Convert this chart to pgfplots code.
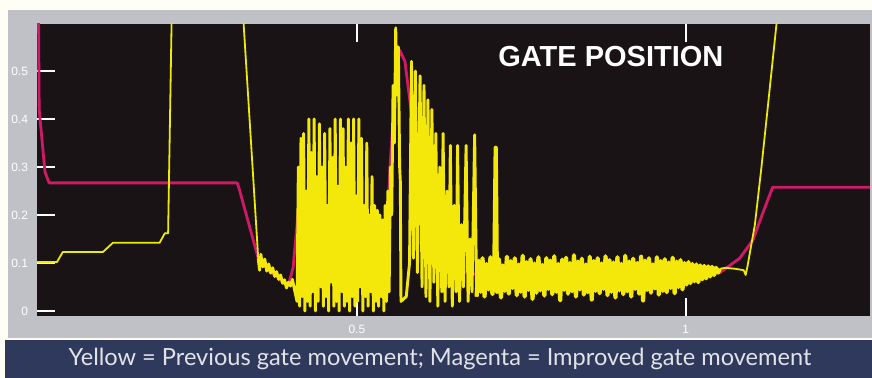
\documentclass[border=0pt]{standalone}
\usepackage{pgfplots}
\pgfplotsset{compat=1.18}
\usepackage{fontspec}
\setmainfont{Liberation Sans}
\newfontfamily\bannerfont{Lato}
\definecolor{plotbg}{RGB}{26,19,21}
\definecolor{framegray}{RGB}{192,192,199}
\definecolor{bannerblue}{RGB}{47,57,92}
\definecolor{bannertext}{RGB}{226,226,232}
\definecolor{gyellow}{RGB}{244,232,10}
\definecolor{gmagenta}{RGB}{208,26,104}
\begin{document}
\begin{tikzpicture}
\useasboundingbox (0,0) rectangle (436pt,189pt);
\fill[white!96!yellow] (0,0) rectangle (436pt,189pt);
\fill[framegray] (4pt,20pt) rectangle (436pt,184pt);
\fill[bannerblue] (2.5pt,0pt) rectangle (436pt,19pt);
\node[text=bannertext,font=\bannerfont\fontsize{11.8}{13}\selectfont] at (220pt,9.5pt) {Yellow = Previous gate movement; Magenta = Improved gate movement};
\begin{axis}[
  at={(18.5pt,31pt)}, anchor=south west,
  scale only axis, width=416.5pt, height=146pt,
  xmin=0.0137, xmax=1.28, ymin=-0.0104, ymax=0.598,
  axis background/.style={fill=plotbg},
  axis line style={draw=none},
  xtick={0.5,1}, xticklabels={0.5,1},
  ytick={0,0.1,0.2,0.3,0.4,0.5}, yticklabels={0,0.1,0.2,0.3,0.4,0.5},
  xtick pos=both, ytick pos=left,
  tick align=inside, major tick length=9pt,
  tick style={white, line width=0.9pt},
  tick label style={white, font=\fontsize{6}{7}\selectfont},
  /pgf/number format/assume math mode=true,
  yticklabel style={xshift=-1pt},
  xticklabel style={yshift=-1pt},
  clip=true,
]
\addplot[gmagenta, line width=1.4pt, line join=round] coordinates {
(0.016,0.62)(0.017,0.42)(0.0258,0.29)(0.0320,0.267)(0.318,0.267)(0.321,0.255)(0.350,0.110)(0.365,0.085)(0.380,0.070)(0.391,0.055)(0.397,0.060)(0.403,0.090)(0.409,0.180)(0.413,0.250)(0.419,0.220)(0.429,0.170)(0.436,0.154)(0.444,0.130)(0.451,0.127)(0.459,0.150)(0.467,0.170)(0.474,0.160)(0.482,0.150)(0.489,0.145)(0.497,0.140)(0.505,0.120)(0.512,0.096)(0.520,0.090)(0.527,0.096)(0.535,0.110)(0.5426,0.140)(0.547,0.200)(0.550,0.290)(0.558,0.470)(0.565,0.544)(0.573,0.520)(0.584,0.400)(0.596,0.310)(0.611,0.217)(0.626,0.154)(0.637,0.120)(0.652,0.092)(0.667,0.080)(0.687,0.075)(0.720,0.072)(0.800,0.070)(0.900,0.072)(1.000,0.075)(1.052,0.080)(1.082,0.110)(1.102,0.148)(1.117,0.204)(1.132,0.258)(1.280,0.258)
};
% previous movement: closing steps and opening ramp (thin trace)
\addplot[gyellow!85!lime, line width=0.9pt, line join=round] coordinates {
(0.0137,0.102)(0.044,0.102)(0.053,0.123)(0.114,0.123)(0.129,0.142)(0.200,0.142)(0.208,0.162)(0.213,0.162)(0.219,0.66)(0.325,0.66)(0.350,0.110)
};
% previous movement: oscillating part
\addplot[gyellow, line width=1.45pt, line join=round] coordinates {
(0.350,0.110)
(0.352,0.085)(0.354,0.118)(0.357,0.092)(0.360,0.108)(0.363,0.083)(0.366,0.098)(0.369,0.079)(0.372,0.090)(0.375,0.072)(0.378,0.082)(0.381,0.066)(0.384,0.075)(0.387,0.058)(0.390,0.065)(0.393,0.048)(0.396,0.060)(0.399,0.052)(0.402,0.066)(0.405,0.045)
(0.409,0.02)(0.411,0.30)(0.413,0.01)(0.415,0.36)(0.417,0.03)(0.419,0.37)(0.421,0.00)(0.423,0.25)(0.425,0.02)(0.427,0.40)(0.429,0.01)(0.431,0.33)(0.433,0.04)(0.435,0.40)(0.437,0.00)(0.439,0.28)(0.441,0.02)(0.443,0.39)(0.445,0.05)(0.447,0.30)(0.449,0.01)(0.451,0.37)(0.453,0.03)(0.455,0.22)(0.457,0.00)(0.459,0.38)(0.461,0.06)(0.463,0.32)(0.465,0.01)(0.467,0.40)(0.469,0.02)(0.471,0.26)(0.473,0.00)(0.475,0.40)(0.477,0.04)(0.479,0.38)(0.481,0.01)(0.483,0.30)(0.485,0.02)(0.487,0.40)(0.489,0.00)(0.491,0.35)(0.493,0.03)(0.495,0.40)(0.497,0.01)(0.499,0.24)(0.501,0.02)(0.503,0.40)(0.505,0.05)(0.507,0.36)(0.509,0.00)(0.511,0.22)(0.513,0.03)(0.515,0.35)(0.517,0.01)(0.519,0.20)(0.521,0.04)(0.523,0.28)(0.525,0.00)(0.527,0.22)(0.529,0.02)(0.531,0.21)(0.533,0.01)(0.535,0.20)(0.537,0.03)(0.539,0.19)(0.541,0.00)(0.543,0.22)(0.545,0.02)(0.547,0.25)(0.549,0.04)
(0.551,0.30)(0.553,0.20)(0.555,0.47)(0.557,0.35)(0.559,0.59)(0.561,0.45)(0.563,0.55)(0.565,0.30)(0.566,0.27)(0.567,0.02)(0.575,0.03)(0.580,0.10)
(0.583,0.52)(0.586,0.11)(0.589,0.50)(0.592,0.08)(0.596,0.49)(0.599,0.05)(0.602,0.47)(0.605,0.03)(0.608,0.44)(0.611,0.02)(0.614,0.42)(0.617,0.06)(0.620,0.37)(0.623,0.01)(0.626,0.30)(0.629,0.04)(0.631,0.37)(0.634,0.02)(0.637,0.25)(0.640,0.05)(0.642,0.345)(0.645,0.01)(0.648,0.22)(0.651,0.04)(0.653,0.345)(0.656,0.02)(0.659,0.18)(0.662,0.05)(0.666,0.345)(0.669,0.02)(0.672,0.15)(0.675,0.04)(0.679,0.367)(0.682,0.03)
};
% previous movement: steady noisy band
\addplot[gyellow, line width=2.1pt, line join=round] coordinates {
(0.682,0.03)
(0.685,0.105)(0.688,0.040)(0.691,0.110)(0.694,0.030)(0.697,0.098)(0.700,0.045)(0.703,0.112)(0.706,0.035)(0.709,0.100)(0.711,0.340)(0.713,0.040)(0.716,0.108)(0.719,0.028)(0.722,0.095)(0.725,0.042)(0.728,0.113)(0.731,0.036)(0.734,0.104)(0.737,0.048)(0.740,0.110)(0.743,0.033)(0.746,0.097)(0.749,0.040)(0.752,0.115)(0.755,0.030)(0.758,0.102)(0.761,0.044)(0.764,0.108)(0.767,0.025)(0.770,0.099)(0.773,0.038)(0.776,0.112)(0.779,0.043)(0.782,0.096)(0.785,0.032)(0.788,0.110)(0.791,0.046)(0.794,0.105)(0.797,0.035)(0.800,0.114)(0.803,0.040)(0.806,0.098)(0.809,0.022)(0.812,0.107)(0.815,0.044)(0.818,0.111)(0.821,0.036)(0.824,0.100)(0.827,0.041)(0.830,0.116)(0.833,0.030)(0.836,0.103)(0.839,0.045)(0.842,0.109)(0.845,0.034)(0.848,0.097)(0.851,0.039)(0.854,0.113)(0.857,0.024)(0.860,0.104)(0.863,0.042)(0.866,0.110)(0.869,0.037)(0.872,0.099)(0.875,0.046)(0.878,0.114)(0.881,0.033)(0.884,0.106)(0.887,0.040)(0.890,0.101)(0.893,0.028)(0.896,0.112)(0.899,0.043)(0.902,0.098)(0.905,0.035)(0.908,0.115)(0.911,0.041)(0.914,0.103)(0.917,0.030)(0.920,0.109)(0.923,0.046)(0.926,0.100)(0.929,0.036)(0.932,0.113)(0.935,0.022)(0.938,0.105)(0.941,0.044)(0.944,0.110)(0.947,0.038)(0.950,0.097)(0.953,0.047)(0.956,0.112)(0.959,0.034)(0.962,0.104)(0.965,0.042)(0.968,0.108)(0.971,0.039)(0.974,0.101)(0.977,0.048)(0.980,0.111)(0.983,0.037)(0.986,0.103)(0.989,0.050)(0.992,0.106)(0.995,0.045)(0.998,0.100)(1.001,0.055)(1.004,0.102)(1.007,0.058)(1.010,0.098)(1.013,0.062)(1.016,0.097)(1.019,0.060)(1.022,0.095)(1.025,0.066)(1.028,0.094)(1.031,0.068)(1.034,0.093)(1.037,0.072)(1.040,0.092)(1.043,0.075)(1.046,0.090)(1.049,0.080)(1.052,0.088)
};
\addplot[gyellow!85!lime, line width=0.9pt, line join=round] coordinates {
(1.052,0.088)(1.060,0.090)(1.075,0.088)(1.088,0.085)(1.091,0.075)(1.094,0.095)(1.105,0.18)(1.115,0.30)(1.125,0.43)(1.138,0.60)(1.142,0.66)
};
\node[white, font=\bfseries\fontsize{14.5}{16}\selectfont] at (axis cs:0.886,0.531) {GATE POSITION};
\end{axis}
\end{tikzpicture}
\end{document}
